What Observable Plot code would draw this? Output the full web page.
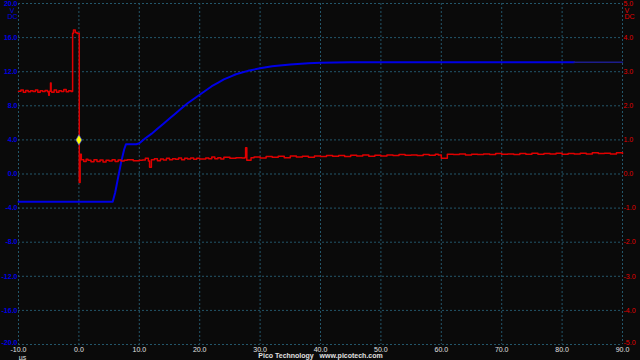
<!DOCTYPE html>
<html>
<head>
<meta charset="utf-8">
<script src="https://cdn.jsdelivr.net/npm/d3@7"></script>
<script src="https://cdn.jsdelivr.net/npm/@observablehq/plot@0.6"></script>
<style>
  html, body { margin: 0; padding: 0; background: #0a0a0a; }
  #chart { width: 640px; height: 360px; }
</style>
</head>
<body>
<div id="chart"></div>
<script>
// Time axis (µs)
const xTicks = [-10, 0, 10, 20, 30, 40, 50, 60, 70, 80, 90];
// Left axis (channel A, V DC) ticks
const leftTicks = [-20, -16, -12, -8, -4, 0, 4, 8, 12, 16, 20];
// Right axis (channel B, V DC) ticks
const rightTicks = [-5, -4, -3, -2, -1, 0, 1, 2, 3, 4, 5];

// Channel A (blue, left axis, V)
const blueT = [-10, 5.6, 6.0, 6.5, 7.0, 7.5, 7.8, 9.5, 10, 11, 12, 13, 14, 15, 16, 17, 18, 19, 20, 21, 22, 23, 24, 25, 26, 27, 28, 30, 32, 35, 38, 40, 45, 82];
const blueV = [-3.25, -3.25, -2.2, -0.4, 1.4, 2.9, 3.5, 3.5, 3.6, 4.2, 4.7, 5.3, 5.9, 6.5, 7.1, 7.7, 8.3, 8.8, 9.3, 9.8, 10.3, 10.7, 11.1, 11.4, 11.7, 11.9, 12.1, 12.4, 12.65, 12.85, 13.0, 13.05, 13.1, 13.1];
// tail of channel A (dimmer)
const blueTailT = [82, 90];
const blueTailV = [13.1, 13.1];

// Channel B (red, right axis, V)
const redT = [-10, -9.6, -9.2, -8.8, -8.4, -8, -7.6, -7.2, -6.8, -6.4, -6, -5.6, -5.2, -5.0, -4.9, -4.7, -4.6, -4.5, -4.1, -3.7, -3.3, -2.9, -2.5, -2.1, -1.7, -1.3, -1.05,
  -1.04, -0.9, -0.6, -0.3, 0.05, 0.06, 0.2, 0.4, 0.8, 1.2, 1.5, 2, 2.5, 3, 3.5, 4, 4.5, 5, 5.5, 6, 6.5, 7, 7.5, 8, 9, 10, 10.5, 11, 11.5, 11.7, 12, 12.5, 13, 13.5, 14, 14.5, 15, 15.5, 16, 16.5, 17, 17.5, 18, 18.5, 19, 19.5, 20, 21, 21.5, 22, 22.5, 23, 23.5, 24, 25, 26, 27, 27.5, 27.6, 27.8, 28.5, 29, 30, 31, 32, 33, 34, 35, 36, 37, 38, 39, 40, 41, 42, 43, 44, 45, 46, 47, 48, 49, 50, 51, 52, 53, 54, 55, 56, 57, 58, 59, 59.5, 60, 61, 62, 63, 64, 65, 66, 67, 68, 69, 70, 71, 72, 73, 74, 75, 76, 77, 78, 79, 80, 81, 82, 83, 84, 85, 86, 87, 88, 89, 90];
const redV = [2.43, 2.46, 2.40, 2.45, 2.41, 2.44, 2.42, 2.46, 2.40, 2.44, 2.42, 2.45, 2.41, 2.31, 2.43, 2.67, 2.43, 2.40, 2.46, 2.40, 2.44, 2.42, 2.48, 2.41, 2.44, 2.42, 2.43,
  4.13, 4.22, 4.15, 4.12, 4.13, -0.25, 0.58, 0.42, 0.37, 0.43, 0.40, 0.36, 0.42, 0.37, 0.41, 0.35, 0.40, 0.38, 0.42, 0.37, 0.41, 0.38, 0.40, 0.42, 0.39, 0.40, 0.41, 0.46, 0.38, 0.20, 0.42, 0.45, 0.39, 0.44, 0.41, 0.46, 0.42, 0.45, 0.43, 0.47, 0.42, 0.46, 0.44, 0.47, 0.43, 0.46, 0.44, 0.47, 0.45, 0.50, 0.45, 0.48, 0.44, 0.49, 0.46, 0.48, 0.47, 0.49, 0.77, 0.40, 0.48, 0.50, 0.47, 0.51, 0.49, 0.52, 0.48, 0.53, 0.50, 0.52, 0.49, 0.53, 0.51, 0.54, 0.52, 0.54, 0.51, 0.55, 0.53, 0.56, 0.52, 0.55, 0.53, 0.56, 0.54, 0.57, 0.55, 0.56, 0.54, 0.57, 0.55, 0.58, 0.56, 0.46, 0.58, 0.57, 0.59, 0.56, 0.58, 0.57, 0.59, 0.57, 0.60, 0.58, 0.59, 0.57, 0.60, 0.58, 0.61, 0.58, 0.60, 0.59, 0.61, 0.58, 0.60, 0.59, 0.61, 0.59, 0.62, 0.60, 0.61, 0.59, 0.62, 0.60, 0.62];

// Trigger marker (time µs, channel B volts)
const triggerT = [0];
const triggerV = [1.0];

const ratio = 4; // left-axis volts per right-axis volt
const blue = blueT.map((t, i) => ({t, v: blueV[i]}));
const blueTail = blueTailT.map((t, i) => ({t, v: blueTailV[i]}));
const red = redT.map((t, i) => ({t, v: redV[i] * ratio}));
const trig = triggerT.map((t, i) => ({t, v: triggerV[i] * ratio}));

const BLUE = "#0000e6";
const RED = "#e00000";
const GRID = "#23566a";
const FONT = "Liberation Sans, Arial, sans-serif";

const yTopTick = leftTicks[leftTicks.length - 1];
const yBottomTick = leftTicks[0];
const innerLeft = leftTicks.slice(1, -1);
const innerRight = rightTicks.slice(1, -1).map(v => v * ratio);
const fmtL = d => d.toFixed(1);
const fmtR = d => (d / ratio).toFixed(1);

const chart = Plot.plot({
  width: 640,
  height: 360,
  marginLeft: 18,
  marginRight: 18,
  marginTop: 3,
  marginBottom: 16,
  style: {background: "#0a0a0a", fontFamily: FONT, fontSize: "7px", overflow: "visible"},
  x: {domain: [-10, 90]},
  y: {domain: [-20, 20]},
  marks: [
    Plot.gridX(xTicks, {stroke: GRID, strokeOpacity: 1, strokeWidth: 1, strokeDasharray: "2,2"}),
    Plot.gridY(leftTicks, {stroke: GRID, strokeOpacity: 1, strokeWidth: 1, strokeDasharray: "2,2"}),
    Plot.axisY({anchor: "left", ticks: innerLeft, tickSize: 0, tickPadding: 1, tickFormat: fmtL, color: BLUE, label: null, fontWeight: "bold"}),
    Plot.axisY({anchor: "left", ticks: [yTopTick], tickSize: 0, tickPadding: 1, tickFormat: fmtL, color: BLUE, label: null, fontWeight: "bold", dy: 0.5}),
    Plot.axisY({anchor: "left", ticks: [yBottomTick], tickSize: 0, tickPadding: 1, tickFormat: fmtL, color: BLUE, label: null, fontWeight: "bold", dy: -2}),
    Plot.axisY({anchor: "right", ticks: innerRight, tickSize: 0, tickPadding: 1, tickFormat: fmtR, color: RED, label: null}),
    Plot.axisY({anchor: "right", ticks: [yTopTick], tickSize: 0, tickPadding: 1, tickFormat: fmtR, color: RED, label: null, dy: 0.5}),
    Plot.axisY({anchor: "right", ticks: [yBottomTick], tickSize: 0, tickPadding: 1, tickFormat: fmtR, color: RED, label: null, dy: -2}),
    Plot.axisX({ticks: xTicks, tickSize: 0, tickPadding: 2.5, tickFormat: fmtL, color: "#e0e0e0", label: null}),
    Plot.text(["V"], {x: -10, y: 20, dx: -4, dy: 7.5, textAnchor: "end", fill: BLUE}),
    Plot.text(["DC"], {x: -10, y: 20, dx: -1, dy: 13.5, textAnchor: "end", fill: BLUE}),
    Plot.text(["V"], {x: 90, y: 20, dx: 2, dy: 7.5, textAnchor: "start", fill: RED}),
    Plot.text(["DC"], {x: 90, y: 20, dx: 2, dy: 13.5, textAnchor: "start", fill: RED}),
    Plot.text(["µs"], {x: -10, y: -20, dx: 4, dy: 13, fill: "#e0e0e0"}),
    Plot.text(["Pico Technology\u00a0\u00a0\u00a0www.picotech.com"], {frameAnchor: "bottom", dy: 13.2, fill: "#e0e0e0", fontWeight: "bold"}),
    Plot.line(blue, {x: "t", y: "v", stroke: BLUE, strokeWidth: 2}),
    Plot.line(blueTail, {x: "t", y: "v", stroke: "#1c1c8c", strokeWidth: 1.5}),
    Plot.line(red, {x: "t", y: "v", stroke: RED, strokeWidth: 1.5, curve: "step-after"}),
    Plot.dot(trig, {x: "t", y: "v", symbol: "diamond", r: 3.2, fill: "#ffff00", stroke: "#2030ff", strokeWidth: 0.6})
  ]
});
document.getElementById("chart").appendChild(chart);
</script>
</body>
</html>
